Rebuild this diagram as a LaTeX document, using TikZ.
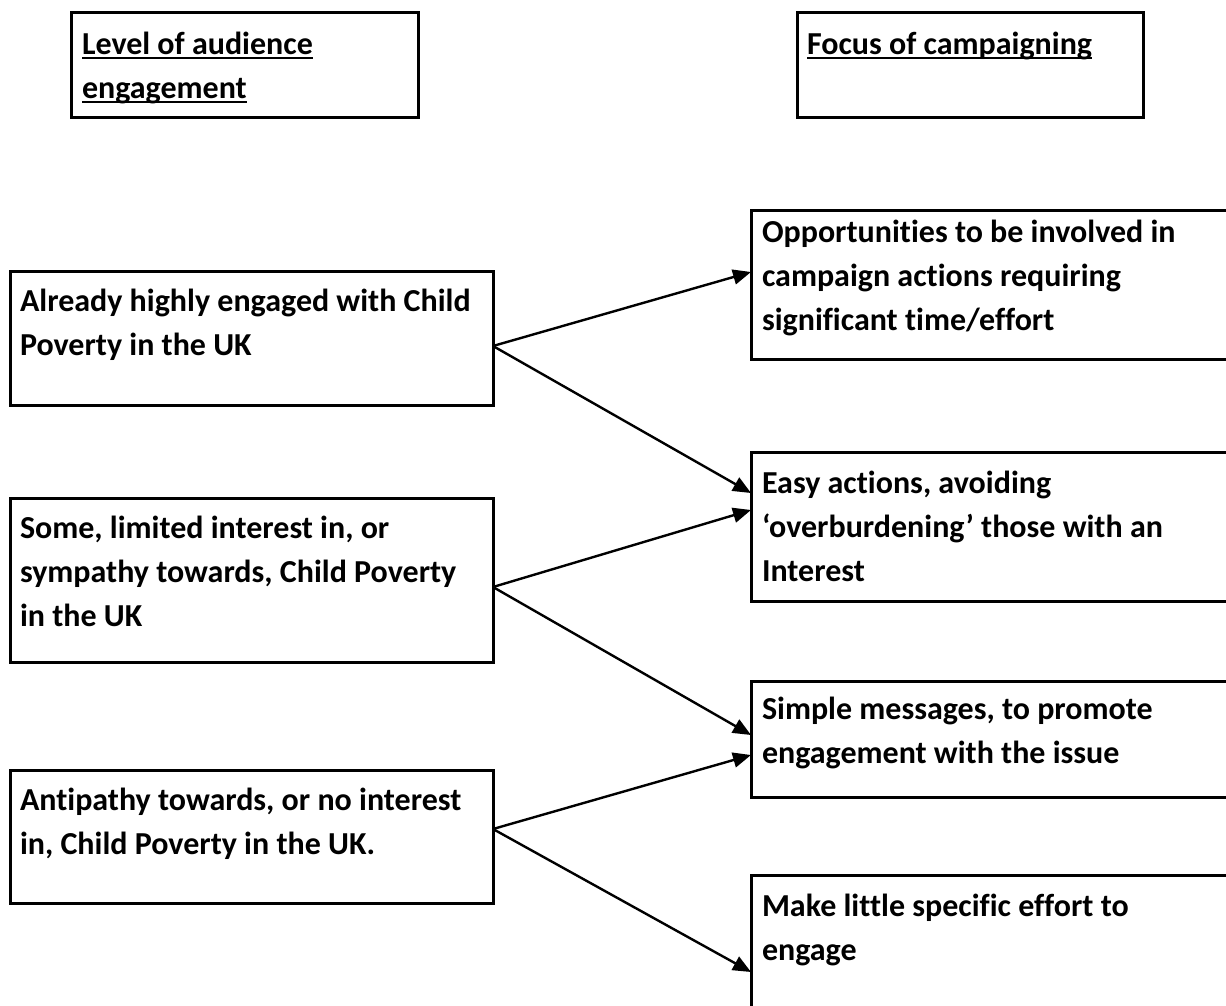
\documentclass[tikz,border=0pt]{standalone}
\usepackage{fontspec}
\setmainfont{Carlito}[Ligatures=NoCommon]
\usetikzlibrary{arrows.meta}
% underline a heading with a heavy rule just below the baseline
\newcommand\hdrline[1]{\setbox0\hbox{#1}\rlap{\rule[-4.5pt]{\wd0}{2.8pt}}\box0}
\begin{document}
\begin{tikzpicture}[x=1pt,y=-1pt,
  box/.style={draw, line width=3pt, inner sep=0pt, outer sep=0pt, anchor=north west},
  txt/.style={anchor=base west, inner sep=0pt, outer sep=0pt, align=left,
              font=\fontsize{32}{44}\selectfont\bfseries},
  link/.style={line width=2.4pt, -{Triangle[length=18pt,width=15pt]}}
]
\clip (0,0) rectangle (1226,1006);
\fill[white] (0,0) rectangle (1226,1006);

% column headings (text nodes are placed by the baseline of their last line)
\node[box, minimum width=347pt, minimum height=105pt] (hdrL) at (71,13) {};
\node[box, minimum width=346pt, minimum height=105pt] (hdrR) at (797,13) {};
\node[txt] (hdrLt) at (82,99) {\hdrline{Level of audience}\\\hdrline{engagement}};
\node[txt] (hdrRt) at (807,55) {\hdrline{Focus of campaigning}};

% audience levels
\node[box, minimum width=483pt, minimum height=134pt] (A) at (10,271) {};
\node[box, minimum width=483pt, minimum height=164pt] (B) at (10,498) {};
\node[box, minimum width=483pt, minimum height=133pt] (C) at (10,770) {};
\node[txt] (At) at (20,355) {Already highly engaged with Child\\Poverty in the UK};
\node[txt] (Bt) at (20,626) {Some, limited interest in, or\\sympathy towards, Child Poverty\\in the UK};
\node[txt] (Ct) at (20,854) {Antipathy towards, or no interest\\in, Child Poverty in the UK.};

% campaigning responses (running off the right edge)
\node[box, minimum width=520pt, minimum height=149pt] (P) at (751,210) {};
\node[box, minimum width=520pt, minimum height=149pt] (E) at (751,452) {};
\node[box, minimum width=520pt, minimum height=116pt] (S) at (751,681) {};
\node[box, minimum width=520pt, minimum height=160pt] (M) at (751,875) {};
\node[txt] (Pt) at (762,330) {Opportunities to be involved in\\campaign actions requiring\\significant time/effort};
\node[txt] (Et) at (762,581) {Easy actions, avoiding\\‘overburdening’ those with an\\Interest};
\node[txt] (St) at (762,763) {Simple messages, to promote\\engagement with the issue};
\node[txt] (Mt) at (762,960) {Make little specific effort to\\engage};

% connectors
\draw[link] ([yshift=-8pt]A.east) -- ([yshift=12.5pt]P.west);
\draw[link] ([yshift=-8pt]A.east) -- ([yshift=33.5pt]E.west);
\draw[link] ([yshift=-7pt]B.east) -- ([yshift=16.5pt]E.west);
\draw[link] ([yshift=-7pt]B.east) -- ([yshift=4pt]S.west);
\draw[link] ([yshift=7.5pt]C.east) -- ([yshift=-16pt]S.west);
\draw[link] ([yshift=7.5pt]C.east) -- ([yshift=-17pt]M.west);
\end{tikzpicture}
\end{document}
